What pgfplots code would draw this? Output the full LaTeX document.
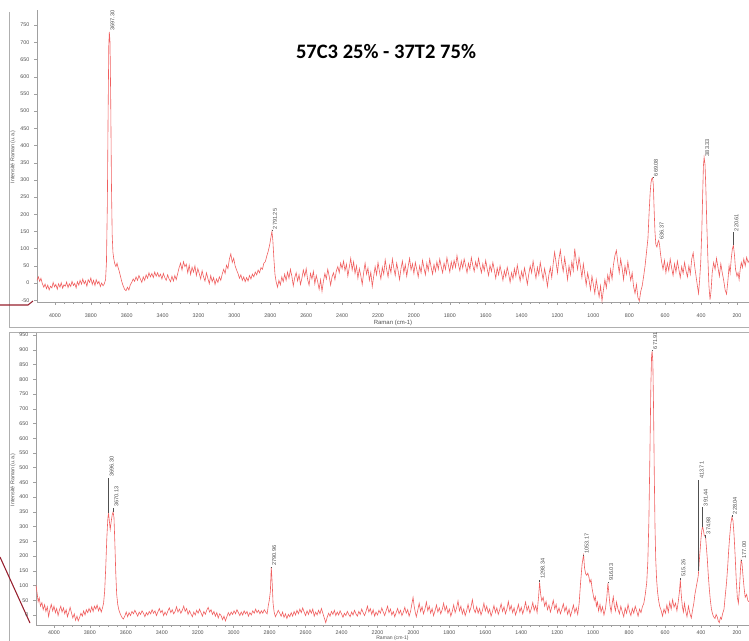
\documentclass[border=0pt]{standalone}
\usepackage{fontspec}
\setmainfont{Liberation Sans}
\newfontfamily\titlefont{Carlito}
\usepackage{pgfplots}
\pgfplotsset{compat=1.18}
\definecolor{spec}{RGB}{240,95,95}
\definecolor{axgray}{RGB}{160,160,160}
\definecolor{lblgray}{RGB}{80,80,80}
\definecolor{framegray}{RGB}{175,175,175}
\definecolor{arrowred}{RGB}{150,30,45}
\pgfplotsset{
  ramanstyle/.style={
    scale only axis, clip=false,
    x dir=reverse, xmin=133, xmax=4100,
    axis x line*=bottom, axis y line*=left,
    axis line style={axgray, line width=0.4pt, -},
    xtick={200,400,...,4000},
    minor x tick num=3,
    tick style={axgray, line width=0.3pt},
    major tick length=2.2pt, minor tick length=1.4pt,
    tick align=outside,
    ticklabel style={font=\fontsize{4}{4.5}\selectfont, text=lblgray},
    /pgf/number format/assume math mode=true,
    /pgf/number format/1000 sep={},
  },
  speclines/.style={color=spec, line width=0.45pt, mark=none},
}
\newcommand{\plab}[4]{%
  \draw[lblgray, line width=0.3pt] (axis cs:#1,#2) -- (axis cs:#1,#3);
  \node[rotate=90, anchor=north west, inner sep=0.6pt, font=\fontsize{4.2}{4.5}\selectfont, text=lblgray] at (axis cs:#1,#3) {#4};}
\begin{document}
\begin{tikzpicture}[x=0.75pt, y=-0.75pt]
\path[use as bounding box] (0,0) rectangle (749,641);
% frames
\draw[framegray, line width=0.5pt] (9,12) -- (9,327) -- (760,327);
\draw[framegray, line width=0.5pt] (760,332) -- (9,332) -- (9,660);
% annotation lines from the slide
\draw[arrowred, line width=0.8pt] (0,305) -- (28,305) -- (33,301);
\draw[arrowred, line width=0.8pt] (0,557) -- (30,623);
% title
\node[font=\titlefont\bfseries\fontsize{15.4}{18}\selectfont] at (386,52) {57C3 25\% - 37T2 75\%};
% y labels
\node[rotate=90, font=\fontsize{4}{4.5}\selectfont, text=lblgray] at (13,157) {Intensité Raman (u.a.)};
\node[rotate=90, font=\fontsize{4}{4.5}\selectfont, text=lblgray] at (13,480) {Intensité Raman (u.a.)};

% ---------------- top panel ----------------
\begin{axis}[ramanstyle, at={(27.75pt,-7.5pt)}, anchor=north west,
  width=534pt, height=219pt, ymin=-55, ymax=794, ytick={-50,0,...,750},
  xticklabel style={yshift=-3.2pt}]
\addplot[speclines] coordinates {
(4100,8)(4092,18)(4085,5)(4078,14)(4070,-2)(4062,-12)(4055,-3)(4047,-16)(4040,-6)(4032,-20)
(4025,-9)(4017,-14)(4010,2)(4002,-11)(3995,-4)(3987,-18)(3980,-2)(3972,-12)(3965,1)(3957,-15)
(3950,-5)(3942,-9)(3935,3)(3927,-13)(3920,-2)(3912,-10)(3905,5)(3897,-7)(3890,-1)(3882,-14)
(3875,4)(3867,-6)(3860,8)(3852,-3)(3845,12)(3837,-2)(3830,6)(3822,-9)(3815,10)(3807,2)
(3800,15)(3792,-4)(3785,8)(3777,-7)(3770,10)(3762,-2)(3755,5)(3747,-10)(3740,0)(3732,-8)
(3725,-2)(3718,10)(3713,60)(3708,230)(3704,480)(3700,690)(3697,730)(3693,700)(3689,520)(3685,280)
(3681,140)(3677,90)(3672,70)(3666,55)(3660,48)(3654,58)(3648,45)(3642,35)(3636,22)(3628,5)
(3620,-8)(3612,-18)(3604,-22)(3596,-12)(3588,-20)(3580,-5)(3572,2)(3564,12)(3556,5)(3548,18)
(3540,8)(3532,22)(3524,12)(3516,2)(3508,18)(3500,8)(3492,24)(3484,14)(3476,30)(3468,18)
(3460,28)(3452,16)(3444,32)(3436,20)(3428,30)(3420,18)(3412,26)(3404,12)(3396,28)(3388,16)
(3380,8)(3372,24)(3364,12)(3356,4)(3348,20)(3340,6)(3332,22)(3324,10)(3316,28)(3308,45)
(3300,58)(3292,38)(3284,62)(3276,48)(3268,55)(3260,30)(3252,52)(3244,25)(3236,46)(3228,32)
(3220,50)(3212,22)(3204,42)(3196,28)(3188,12)(3180,36)(3172,18)(3164,6)(3156,30)(3148,14)
(3140,-2)(3132,22)(3124,4)(3116,16)(3108,-4)(3100,12)(3092,2)(3084,18)(3076,8)(3068,26)
(3060,40)(3052,28)(3044,52)(3036,42)(3028,70)(3020,85)(3012,60)(3004,72)(2996,50)(2988,38)
(2980,28)(2972,14)(2964,24)(2956,8)(2948,18)(2940,4)(2932,16)(2924,6)(2916,22)(2908,12)
(2900,26)(2892,18)(2884,32)(2876,24)(2868,38)(2860,30)(2852,45)(2844,40)(2836,58)(2828,62)
(2820,78)(2812,92)(2804,110)(2796,135)(2791,150)(2786,125)(2780,70)(2774,25)(2768,5)(2760,-12)
(2752,8)(2744,-5)(2736,18)(2728,4)(2720,26)(2712,8)(2704,32)(2696,14)(2688,40)(2680,20)
(2672,-8)(2664,16)(2656,30)(2648,6)(2640,24)(2632,-4)(2624,14)(2616,38)(2608,20)(2600,42)
(2592,10)(2584,-6)(2576,28)(2568,12)(2560,34)(2552,-2)(2544,22)(2536,4)(2528,-18)(2520,10)
(2512,-24)(2504,6)(2496,28)(2488,12)(2480,40)(2472,20)(2464,-6)(2456,18)(2448,30)(2440,10)
(2432,36)(2424,48)(2416,30)(2408,58)(2400,42)(2392,64)(2384,36)(2376,55)(2368,20)(2360,46)
(2352,72)(2344,38)(2336,62)(2328,28)(2320,50)(2312,14)(2304,42)(2296,22)(2288,-4)(2280,30)
(2272,58)(2264,26)(2256,44)(2248,8)(2240,32)(2232,-10)(2224,20)(2216,48)(2208,24)(2200,60)
(2192,34)(2184,12)(2176,46)(2168,26)(2160,68)(2152,40)(2144,18)(2136,52)(2128,30)(2120,70)
(2112,44)(2104,22)(2096,58)(2088,36)(2080,10)(2072,42)(2064,64)(2056,30)(2048,54)(2040,20)
(2032,48)(2024,72)(2016,38)(2008,56)(2000,28)(1992,60)(1984,40)(1976,18)(1968,50)(1960,30)
(1952,66)(1944,44)(1936,24)(1928,58)(1920,36)(1912,70)(1904,46)(1896,26)(1888,54)(1880,34)
(1872,62)(1864,40)(1856,70)(1848,48)(1840,30)(1832,58)(1824,40)(1816,74)(1808,52)(1800,32)
(1792,62)(1784,42)(1776,66)(1768,46)(1760,80)(1752,54)(1744,36)(1736,64)(1728,44)(1720,70)
(1712,50)(1704,30)(1696,58)(1688,40)(1680,74)(1672,52)(1664,34)(1656,62)(1648,44)(1640,72)
(1632,50)(1624,30)(1616,56)(1608,36)(1600,66)(1592,42)(1584,22)(1576,52)(1568,34)(1560,60)
(1552,38)(1544,14)(1536,44)(1528,24)(1520,50)(1512,30)(1504,8)(1496,36)(1488,18)(1480,46)
(1472,26)(1464,2)(1456,30)(1448,12)(1440,42)(1432,20)(1424,52)(1416,28)(1408,6)(1400,34)
(1392,14)(1384,44)(1376,22)(1368,-4)(1360,26)(1352,50)(1344,30)(1336,64)(1328,38)(1320,14)
(1312,46)(1304,24)(1296,60)(1288,34)(1280,10)(1272,42)(1264,20)(1256,-10)(1248,24)(1240,46)
(1232,16)(1224,56)(1216,90)(1208,60)(1200,30)(1192,70)(1184,96)(1176,58)(1168,34)(1160,74)
(1152,44)(1144,10)(1136,50)(1128,24)(1120,62)(1112,36)(1104,100)(1096,66)(1088,40)(1080,74)
(1072,48)(1064,16)(1056,56)(1048,26)(1040,-6)(1032,30)(1024,8)(1016,-20)(1008,20)(1000,-4)
(992,-30)(984,10)(976,-16)(968,-40)(960,-8)(952,-52)(944,-20)(936,10)(928,-14)(920,24)
(912,4)(904,40)(896,12)(888,54)(880,80)(872,95)(864,60)(856,30)(848,70)(840,44)
(832,10)(824,50)(816,26)(808,62)(800,34)(792,8)(784,30)(776,-10)(768,-30)(760,-4)
(752,-42)(744,-52)(736,-24)(728,-8)(720,20)(712,50)(704,90)(696,130)(690,200)(684,260)
(679,292)(675,303)(670,306)(666,285)(662,220)(657,150)(652,112)(646,105)(641,118)(636,124)
(631,110)(626,85)(620,62)(612,40)(604,66)(596,30)(588,58)(580,36)(572,70)(564,44)
(556,22)(548,56)(540,32)(532,64)(524,40)(516,16)(508,48)(500,28)(492,60)(484,36)
(476,18)(468,50)(460,26)(452,70)(444,88)(436,50)(428,20)(420,-10)(414,-30)(408,10)
(402,60)(396,150)(391,260)(387,340)(383,366)(378,345)(373,270)(368,170)(362,70)(356,-10)
(350,-48)(344,-20)(338,30)(330,60)(322,40)(314,72)(306,46)(298,20)(290,56)(282,30)
(274,8)(266,-20)(258,-32)(250,10)(244,50)(238,30)(232,70)(226,98)(220,110)(214,82)
(208,40)(200,20)(194,30)(188,10)(182,40)(176,60)(170,45)(162,70)(154,50)(146,75)
(138,60)(134,65)
};
\plab{3697}{730}{730}{3697.30}
\plab{2791}{150}{154}{2791.25}
\plab{669}{306}{308}{669.08}
\plab{636}{124}{124}{636.37}
\plab{383}{366}{366}{383.33}
\plab{220}{110}{148}{220.61}
\node[font=\fontsize{4.5}{5}\selectfont, text=lblgray] at (axis description cs:0.5,-0.072) {Raman (cm-1)};
\end{axis}

% ---------------- bottom panel ----------------
\begin{axis}[ramanstyle, at={(27pt,-249.75pt)}, anchor=north west,
  width=534.75pt, height=219pt, ymin=-34, ymax=957, ytick={0,50,...,950},
  xticklabel style={yshift=1.3pt}]
\addplot[speclines] coordinates {
(4100,100)(4094,75)(4088,45)(4082,58)(4075,30)(4067,42)(4060,18)(4052,35)(4045,12)(4037,28)
(4030,-5)(4022,20)(4015,36)(4007,14)(4000,30)(3992,8)(3985,22)(3977,-2)(3970,16)(3962,30)
(3955,10)(3947,24)(3940,4)(3932,18)(3925,-6)(3917,10)(3910,26)(3902,6)(3895,-10)(3887,4)
(3880,-18)(3872,-4)(3865,-20)(3857,-8)(3850,6)(3842,-4)(3835,14)(3827,0)(3820,18)(3812,8)
(3805,22)(3797,10)(3790,28)(3782,12)(3775,30)(3767,20)(3760,34)(3752,14)(3745,26)(3737,10)
(3730,24)(3724,40)(3718,80)(3712,160)(3706,260)(3700,330)(3696,345)(3692,320)(3687,290)(3682,315)
(3676,340)(3671,350)(3666,330)(3661,240)(3656,140)(3651,70)(3645,35)(3638,15)(3630,2)(3622,-8)
(3614,-14)(3606,-4)(3598,10)(3590,-6)(3582,8)(3574,-2)(3566,12)(3558,4)(3550,16)(3542,6)
(3534,-4)(3526,10)(3518,2)(3510,14)(3502,6)(3494,-6)(3486,8)(3478,0)(3470,12)(3462,4)
(3454,18)(3446,6)(3438,14)(3430,-2)(3422,10)(3414,22)(3406,8)(3398,16)(3390,-2)(3382,10)
(3374,0)(3366,14)(3358,24)(3350,8)(3342,18)(3334,4)(3326,12)(3318,28)(3310,10)(3302,20)
(3294,6)(3286,16)(3278,30)(3270,12)(3262,22)(3254,2)(3246,14)(3238,4)(3230,-6)(3222,10)
(3214,0)(3206,16)(3198,6)(3190,20)(3182,8)(3174,-4)(3166,12)(3158,2)(3150,16)(3142,26)
(3134,10)(3126,18)(3118,2)(3110,12)(3102,-4)(3094,8)(3086,-10)(3078,4)(3070,-2)(3062,-16)
(3054,-4)(3046,-20)(3038,-6)(3030,8)(3022,-2)(3014,10)(3006,2)(2998,14)(2990,4)(2982,18)
(2974,8)(2966,-2)(2958,10)(2950,0)(2942,14)(2934,4)(2926,12)(2918,-4)(2910,8)(2902,0)
(2894,14)(2886,6)(2878,20)(2870,8)(2862,16)(2854,4)(2846,14)(2838,6)(2830,18)(2822,10)
(2814,4)(2808,30)(2802,50)(2796,80)(2791,162)(2786,110)(2781,40)(2775,10)(2768,-6)(2760,4)
(2752,16)(2744,6)(2736,-4)(2728,10)(2720,-8)(2712,4)(2704,-12)(2696,2)(2688,-6)(2680,8)
(2672,-4)(2664,12)(2656,0)(2648,16)(2640,4)(2632,20)(2624,8)(2616,24)(2608,10)(2600,-2)
(2592,14)(2584,2)(2576,18)(2568,6)(2560,20)(2552,-4)(2544,10)(2536,0)(2528,16)(2520,4)
(2512,22)(2504,6)(2496,-10)(2488,-26)(2480,-8)(2472,6)(2464,-4)(2456,12)(2448,2)(2440,16)
(2432,-2)(2424,10)(2416,0)(2408,14)(2400,4)(2392,-8)(2384,6)(2376,-2)(2368,12)(2360,2)
(2352,-6)(2344,10)(2336,0)(2328,16)(2320,4)(2312,-4)(2304,12)(2296,2)(2288,20)(2280,8)
(2272,-2)(2264,12)(2256,30)(2248,10)(2240,22)(2232,2)(2224,18)(2216,-4)(2208,10)(2200,0)
(2192,16)(2184,6)(2176,24)(2168,10)(2160,-2)(2152,14)(2144,30)(2136,8)(2128,20)(2120,0)
(2112,12)(2104,-6)(2096,8)(2088,22)(2080,4)(2072,16)(2064,-2)(2056,10)(2048,26)(2040,6)
(2032,18)(2024,-4)(2016,12)(2008,40)(2002,60)(1996,30)(1990,10)(1984,-6)(1976,16)(1968,40)
(1960,12)(1952,28)(1944,4)(1936,20)(1928,44)(1920,14)(1912,30)(1904,6)(1896,22)(1888,-2)
(1880,14)(1872,34)(1864,10)(1856,24)(1848,4)(1840,18)(1832,40)(1824,14)(1816,30)(1808,6)
(1800,20)(1792,-4)(1784,12)(1776,34)(1768,8)(1760,24)(1752,48)(1744,14)(1736,30)(1728,4)
(1720,20)(1712,-2)(1704,14)(1696,36)(1688,10)(1680,26)(1672,52)(1664,20)(1656,8)(1648,28)
(1640,6)(1632,22)(1624,0)(1616,16)(1608,40)(1600,14)(1592,30)(1584,6)(1576,20)(1568,-4)
(1560,12)(1552,32)(1544,8)(1536,24)(1528,2)(1520,18)(1512,38)(1504,12)(1496,28)(1488,4)
(1480,20)(1472,46)(1464,16)(1456,32)(1448,8)(1440,24)(1432,0)(1424,16)(1416,36)(1408,10)
(1400,26)(1392,4)(1384,22)(1376,44)(1368,14)(1360,30)(1352,6)(1344,22)(1336,42)(1328,16)
(1320,32)(1312,8)(1304,60)(1298,111)(1292,70)(1286,48)(1278,60)(1270,30)(1262,46)(1254,18)
(1246,34)(1238,10)(1230,28)(1222,50)(1214,20)(1206,36)(1198,8)(1190,24)(1182,4)(1174,20)
(1166,38)(1158,12)(1150,28)(1142,2)(1134,20)(1126,-4)(1118,14)(1110,34)(1102,8)(1094,24)
(1086,2)(1078,40)(1070,110)(1062,170)(1056,195)(1053,203)(1048,160)(1042,140)(1036,135)(1030,142)
(1024,130)(1018,110)(1012,120)(1006,90)(1000,70)(994,50)(988,62)(982,30)(976,44)(970,14)
(962,36)(956,10)(948,28)(940,0)(932,20)(924,60)(918,108)(912,70)(906,30)(900,10)
(894,40)(888,62)(882,30)(876,14)(870,44)(862,20)(854,4)(846,30)(838,10)(830,-6)
(822,24)(814,6)(806,36)(798,12)(790,-2)(782,22)(774,6)(766,30)(758,14)(750,-4)
(742,20)(734,8)(726,28)(718,40)(710,70)(702,110)(696,180)(690,320)(684,560)(679,780)
(675,880)(672,895)(668,860)(664,700)(660,480)(656,300)(652,190)(647,120)(642,80)(636,50)
(630,30)(622,16)(614,-4)(606,20)(598,6)(590,34)(582,10)(574,44)(566,20)(558,52)
(550,26)(542,40)(534,14)(526,48)(520,80)(515,118)(510,70)(504,30)(498,10)(492,40)
(486,16)(478,-6)(470,30)(462,6)(454,-10)(446,20)(440,40)(434,70)(428,90)(422,110)
(416,130)(413,150)(410,180)(405,220)(400,260)(395,290)(391,300)(386,285)(382,270)(378,268)
(374,262)(370,230)(365,190)(360,140)(354,90)(348,50)(342,20)(336,4)(330,-6)(322,-12)
(316,2)(310,-6)(304,-20)(298,-26)(292,-8)(286,-14)(280,4)(272,20)(266,60)(258,110)
(252,160)(246,220)(240,270)(234,310)(228,332)(222,320)(216,270)(210,200)(204,120)(198,60)
(192,40)(186,90)(180,160)(177,186)(172,175)(166,130)(160,90)(154,60)(146,70)(140,50)
(134,45)
};
\plab{3696}{345}{465}{3696.30}
\plab{3670}{350}{363}{3670.13}
\plab{2791}{162}{163}{2790.96}
\plab{1298}{111}{119}{1298.34}
\plab{1053}{203}{204}{1053.17}
\plab{916}{108}{112}{916.03}
\plab{672}{895}{899}{671.91}
\plab{515}{118}{126}{515.26}
\plab{413}{150}{458}{413.71}
\plab{391}{300}{366}{391.44}
\plab{375}{262}{271}{374.98}
\plab{228}{332}{339}{228.04}
\plab{177}{186}{187}{177.00}
\node[font=\fontsize{3.8}{4.2}\selectfont, text=lblgray, anchor=south, inner sep=0.2pt] at (axis description cs:0.5,-0.0545) {Raman (cm-1)};
\end{axis}
\end{tikzpicture}
\end{document}
